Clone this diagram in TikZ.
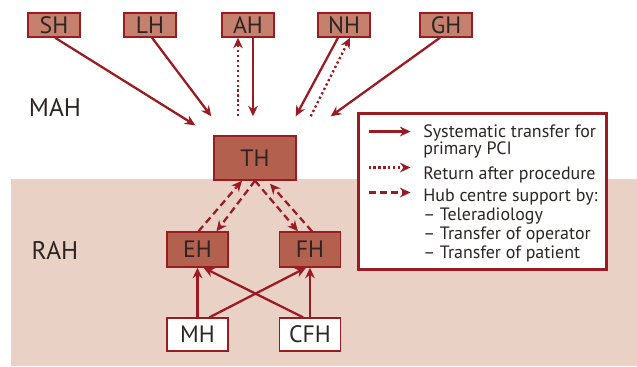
\documentclass[tikz,border=0pt]{standalone}
\usepackage{fontspec}
\setmainfont{PT Sans}
\usetikzlibrary{arrows.meta,positioning,calc}

\definecolor{linered}{HTML}{9B1B22}
\definecolor{spokefill}{HTML}{C5806E}
\definecolor{hubfill}{HTML}{B4604F}
\definecolor{bandfill}{HTML}{E9D1C5}
\definecolor{inkgray}{HTML}{2B2523}

\begin{document}
\begin{tikzpicture}[
  x=0.02cm, y=-0.02cm,
  every node/.style={text=inkgray, font=\fontsize{13.5}{15}\selectfont},
  spoke/.style={rectangle, draw=linered, line width=0.8pt, fill=spokefill, minimum width=1.04cm, minimum height=0.48cm, inner sep=0pt},
  hub/.style={rectangle, draw=linered, line width=0.8pt, fill=hubfill, minimum width=1.64cm, minimum height=0.88cm, inner sep=0pt},
  relay/.style={rectangle, draw=linered, line width=0.8pt, fill=hubfill, minimum width=1.22cm, minimum height=0.7cm, inner sep=0pt},
  feeder/.style={rectangle, draw=linered, line width=0.8pt, fill=white, minimum width=1.22cm, minimum height=0.66cm, inner sep=0pt},
  flow/.style={draw=linered, line width=1.3pt, -{Stealth[length=6pt,width=5.5pt]}},
  back/.style={flow, dash pattern=on 1.3pt off 1.5pt},
  support/.style={flow, dash pattern=on 4pt off 2.4pt},
  keytext/.style={anchor=base west, inner sep=0pt, font=\fontsize{10.2}{11}\selectfont}
]
  \useasboundingbox (0,0) rectangle (637,366);
  % regional band
  \fill[bandfill] (11,179) rectangle (637,366);

  % spoke hospitals
  \node[spoke] (sh) at (54,25)  {SH};
  \node[spoke] (lh) at (150,25) {LH};
  \node[spoke] (ah) at (248,25) {AH};
  \node[spoke] (nh) at (344,25) {NH};
  \node[spoke] (gh) at (446,25) {GH};

  \node[font=\fontsize{14.5}{16}\selectfont] (mah) at (55,107) {MAH};
  \node[font=\fontsize{14.5}{16}\selectfont] (rah) at (55,250) {RAH};

  % hub and regional centres
  \node[hub] (th) at (255,158) {TH};
  \node[relay] (eh) at (197.5,249.5) {EH};
  \node[relay] (fh) at (310,249.5) {FH};
  \node[feeder] (mh) at (197.5,334.5) {MH};
  \node[feeder] (cfh) at (310,334.5) {CFH};

  % transfers to the hub
  \draw[flow] ($(sh.south)+(1,0)$) -- ($(th.north west)+(-18,-10)$);
  \draw[flow] ($(lh.south)+(2,0)$) -- ($(th.north west)+(-2,-19)$);
  \draw[flow] ($(ah.south)+(5,0)$) -- ($(th.north)+(-2,-19)$);
  \draw[back] ($(th.north)+(-17,-19)$) -- ($(ah.south)+(-10,0)$);
  \draw[flow] ($(nh.south)+(-6,0)$) -- ($(th.north east)+(-1,-19)$);
  \draw[back] ($(th.north east)+(14,-19)$) -- ($(nh.south)+(6,0)$);
  \draw[flow] ($(gh.south)+(-6,0)$) -- ($(th.north east)+(34,-19)$);

  % hub support
  \draw[support] ($(eh.north)+(1,0)$) -- ($(th.south)+(-13,0)$);
  \draw[support] (th.south) -- ($(eh.north)+(19,0)$);
  \draw[support] (th.south) -- ($(fh.north)+(-12,0)$);
  \draw[support] ($(fh.north)+(2,0)$) -- ($(th.south)+(15,3)$);

  % local transfers
  \draw[flow] (mh.north) -- (eh.south);
  \draw[flow] ($(mh.north)+(12,0)$) -- ($(fh.south)+(-4,0)$);
  \draw[flow] (cfh.north) -- (fh.south);
  \draw[flow] ($(cfh.north)+(-7,0)$) -- ($(eh.south)+(6,0)$);

  % key
  \node[draw=linered, line width=1.7pt, fill=white, minimum width=4.98cm, minimum height=3.14cm, inner sep=0pt] (legend) at (482.5,191.5) {};
  \draw[flow] ($(legend.north west)+(12,20)$) -- +(42,0);
  \draw[back] ($(legend.north west)+(12,56)$) -- +(42,0);
  \draw[support] ($(legend.north west)+(12,81)$) -- +(42,0);
  \foreach \yy/\txt [count=\i] in {137/Systematic transfer for, 154.5/primary PCI, 179/Return after procedure,
      201.5/Hub centre support by:, 220.5/-- Teleradiology, 239.5/-- Transfer of operator, 258.5/-- Transfer of patient}
    \node[keytext] (key-\i) at (423,\yy) {\txt};
\end{tikzpicture}
\end{document}
